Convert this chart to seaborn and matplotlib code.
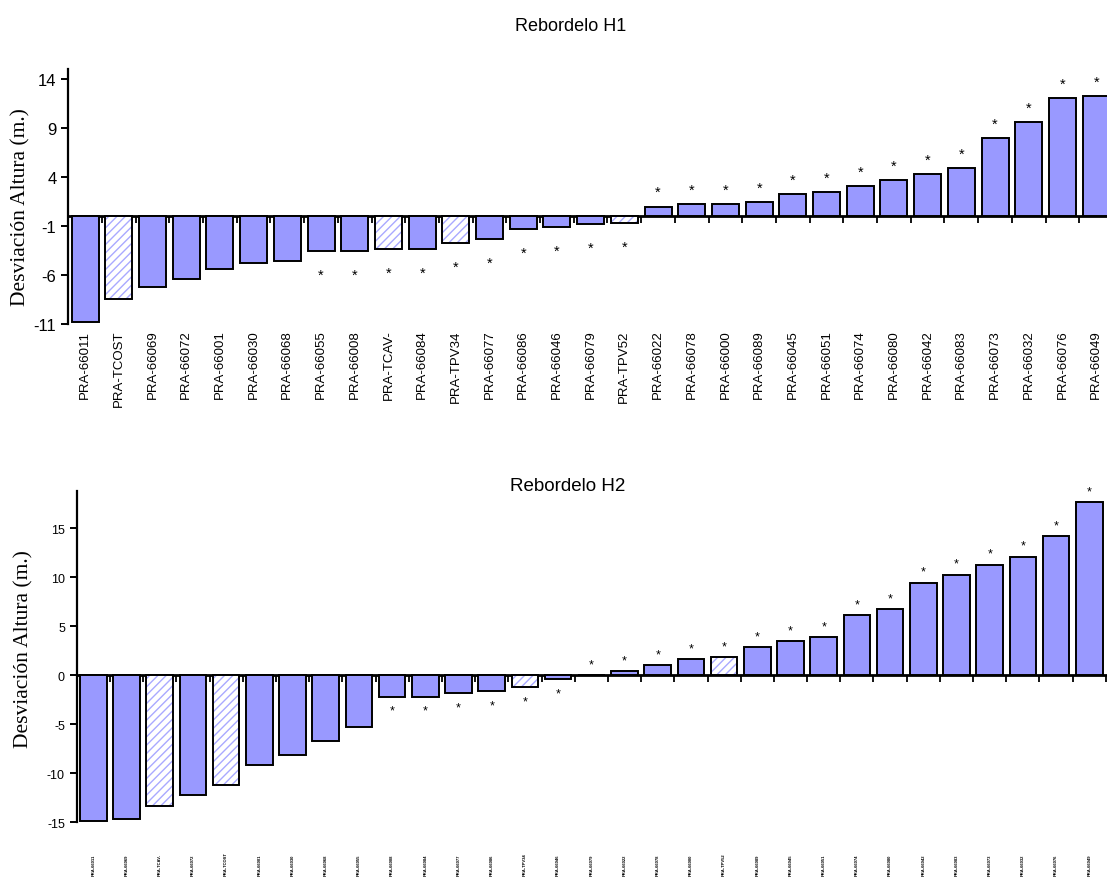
import numpy as np
import pandas as pd
import matplotlib
matplotlib.use("Agg")
import matplotlib.pyplot as plt
import seaborn as sns
from matplotlib.patches import Rectangle

# ---------------- data ----------------
h1_labels = ["PRA-66011", "PRA-TCOST", "PRA-66069", "PRA-66072", "PRA-66001", "PRA-66030",
             "PRA-66068", "PRA-66055", "PRA-66008", "PRA-TCAV-", "PRA-66084", "PRA-TPV34",
             "PRA-66077", "PRA-66086", "PRA-66046", "PRA-66079", "PRA-TPV52", "PRA-66022",
             "PRA-66078", "PRA-66000", "PRA-66089", "PRA-66045", "PRA-66051", "PRA-66074",
             "PRA-66080", "PRA-66042", "PRA-66083", "PRA-66073", "PRA-66032", "PRA-66076",
             "PRA-66049"]
h1_values = [-10.75, -8.46, -7.27, -6.41, -5.39, -4.77, -4.57, -3.58, -3.58, -3.34, -3.34,
             -2.73, -2.31, -1.29, -1.09, -0.85, -0.68, 0.98, 1.2, 1.2, 1.4, 2.25, 2.42, 3.07,
             3.65, 4.27, 4.9, 7.95, 9.62, 12.05, 12.26]
h1_hatched = ["PRA-TCOST", "PRA-TCAV-", "PRA-TPV34", "PRA-TPV52"]
h1_starred = h1_labels[7:]
h1_yticks = [14, 9, 4, -1, -6, -11]

h2_labels = ["PRA-66011", "PRA-66069", "PRA-TCAV-", "PRA-66072", "PRA-TCOST", "PRA-66001",
             "PRA-66030", "PRA-66068", "PRA-66055", "PRA-66008", "PRA-66084", "PRA-66077",
             "PRA-66086", "PRA-TPV34", "PRA-66046", "PRA-66079", "PRA-66022", "PRA-66078",
             "PRA-66000", "PRA-TPV52", "PRA-66089", "PRA-66045", "PRA-66051", "PRA-66074",
             "PRA-66080", "PRA-66042", "PRA-66083", "PRA-66073", "PRA-66032", "PRA-66076",
             "PRA-66049"]
h2_values = [-14.9, -14.7, -13.3, -12.25, -11.2, -9.2, -8.15, -6.7, -5.3, -2.2, -2.2,
             -1.85, -1.64, -1.23, -0.41, 0.02, 0.48, 1.06, 1.68, 1.88, 2.88, 3.52, 3.93,
             6.19, 6.8, 9.47, 10.29, 11.31, 12.13, 14.18, 17.66]
h2_hatched = ["PRA-TCAV-", "PRA-TCOST", "PRA-TPV34", "PRA-TPV52"]
h2_starred = h2_labels[9:]
h2_yticks = [15, 10, 5, 0, -5, -10, -15]

title1 = "Rebordelo H1"
title2 = "Rebordelo H2"
ylab = "Desviación Altura (m.)"

# ---------------- style ----------------
plt.rcParams['font.family'] = ['Liberation Sans', 'DejaVu Sans']
plt.rcParams['hatch.linewidth'] = 1.0
plt.rcParams['axes.unicode_minus'] = False
BAR = '#9999ff'
HATCH = '#a9a9ff'

fig = plt.figure(figsize=(11.07, 8.78), dpi=100)
ax1 = fig.add_axes([0.0617, 0.6298, 0.9437, 0.2904])
ax2 = fig.add_axes([0.0693, 0.0623, 0.9297, 0.3777])


def draw(ax, labels, values, hatched, starred, ylim, yticks, ytick_size,
         star_size, star_up, star_down):
    n = len(labels)
    df = pd.DataFrame({"site": labels, "dev": values})
    sns.barplot(data=df, x="site", y="dev", order=labels, color=BAR, saturation=1,
                width=0.8, edgecolor="black", linewidth=1.4, errorbar=None, ax=ax)
    patches = sorted(ax.patches, key=lambda p: p.get_x())
    for lab, p in zip(labels, patches):
        if lab in hatched:
            p.set_facecolor("white")
            p.set_hatch("////")
            p.set_edgecolor(HATCH)
            p.set_linewidth(0)
            ax.add_patch(Rectangle((p.get_x(), p.get_y()), p.get_width(), p.get_height(),
                                   fill=False, edgecolor="black", linewidth=1.4,
                                   zorder=p.get_zorder() + 0.1))
    for i, (lab, v) in enumerate(zip(labels, values)):
        if lab in starred:
            off = star_up if v >= 0 else star_down
            ax.annotate("*", xy=(i, v), xytext=(0, off), textcoords="offset points",
                        ha="center", va="baseline", fontsize=star_size)
    ax.set_xlim(-0.5, n - 0.5)
    ax.set_ylim(*ylim)
    ax.set_yticks(yticks)
    ax.set_xlabel("")
    ax.set_ylabel("")
    for s in ("top", "right", "bottom"):
        ax.spines[s].set_visible(False)
    ax.spines["left"].set_linewidth(1.6)
    ax.tick_params(axis="y", direction="out", length=5, width=1.4, labelsize=ytick_size,
                   left=True)
    ax.tick_params(axis="x", length=0)
    # zero line with category boundary ticks
    frac = (0 - ylim[0]) / (ylim[1] - ylim[0])
    sec = ax.secondary_xaxis(frac)
    sec.set_alignment("bottom")
    sec.set_xticks(np.arange(-0.5, n, 1.0))
    sec.set_xticklabels([])
    sec.tick_params(axis="x", direction="out", length=5, width=1.3, bottom=True)
    sec.spines["bottom"].set_linewidth(2.0)
    sec.spines["top"].set_visible(False)


draw(ax1, h1_labels, h1_values, h1_hatched, h1_starred, (-11, 15.0), h1_yticks, 12,
     10.5, 7.5, -20)
ax1.set_xticks(range(len(h1_labels)))
ax1.set_xticklabels(h1_labels, rotation=90, fontsize=9.5)
ax1.tick_params(axis="x", pad=4)

draw(ax2, h2_labels, h2_values, h2_hatched, h2_starred, (-15, 18.85), h2_yticks, 9,
     9, 5.5, -12)
ax2.set_xticks(range(len(h2_labels)))
ax2.set_xticklabels([])
for i, lab in enumerate(h2_labels):
    ax2.text(i, -0.159, lab, transform=ax2.get_xaxis_transform(), rotation=90,
             ha="center", va="bottom", fontsize=3.0, fontweight="bold")

fig.text(571 / 1107, 1 - 26.5 / 878, title1, ha="center", va="center", fontsize=13)
fig.text(568 / 1107, 1 - 487 / 878, title2, ha="center", va="center", fontsize=13.5)
fig.text(21 / 1107, 1 - 206.7 / 878, ylab, rotation=90, ha="center", va="center",
         fontsize=15.5, family=["Liberation Serif", "DejaVu Serif"])
fig.text(24 / 1107, 1 - 649 / 878, ylab, rotation=90, ha="center", va="center",
         fontsize=15.5, family=["Liberation Serif", "DejaVu Serif"])

fig.savefig("out.png", dpi=100)
